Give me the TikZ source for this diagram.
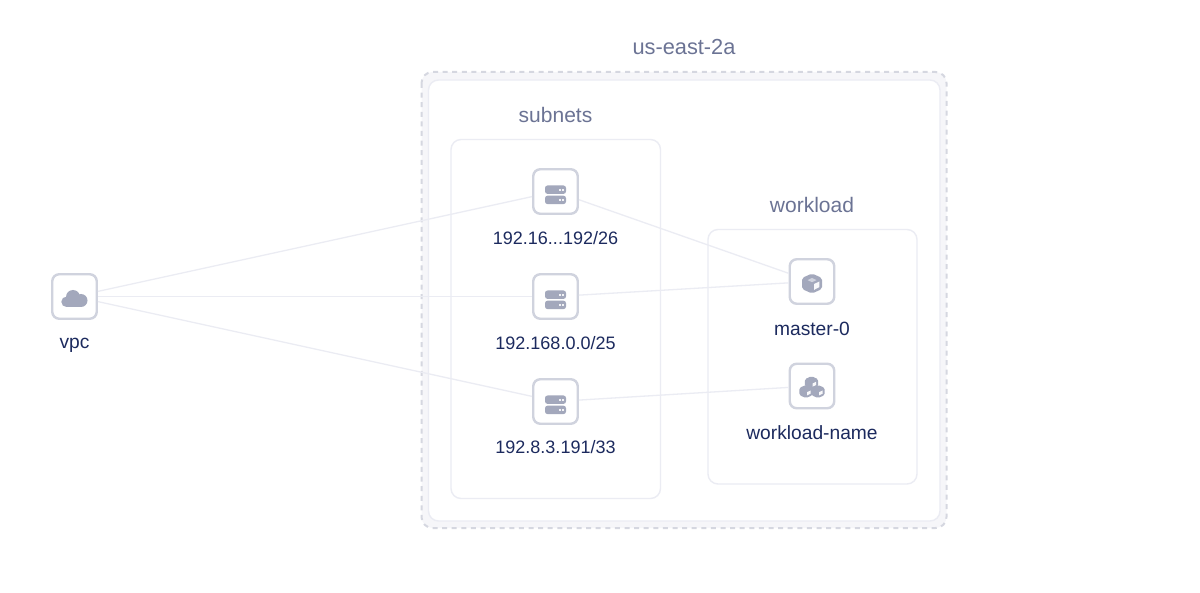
\documentclass[tikz,border=0pt]{standalone}
\usepackage{fontspec}
\setmainfont{Liberation Sans}
\definecolor{ZoneDash}{HTML}{D5D7E0}
\definecolor{ZoneFill}{HTML}{F6F6F9}
\definecolor{BoxLine}{HTML}{EBECF3}
\definecolor{IconLine}{HTML}{D0D3DE}
\definecolor{IconFill}{HTML}{A3A8BC}
\definecolor{TitleText}{HTML}{6B7394}
\definecolor{CaptionText}{HTML}{1C2A5E}
\usetikzlibrary{positioning}
\tikzset{
    % Group boxes
    zone outer/.style={
        draw=ZoneDash,
        fill=ZoneFill,
        line width=2pt,
        dash pattern=on 5pt off 4.6pt,
        rounded corners=11pt
    },
    group box/.style={
        draw=BoxLine,
        fill=white,
        line width=1.4pt,
        rounded corners=10pt
    },
    % Icon tiles
    icon tile/.style={
        rectangle,
        draw=IconLine,
        fill=white,
        line width=2.4pt,
        rounded corners=7pt,
        minimum width=44.5pt,
        minimum height=44.5pt,
        inner sep=0pt
    },
    title label/.style={
        font=\fontsize{21}{24}\selectfont,
        text=TitleText,
        anchor=base,
        inner sep=0pt
    },
    caption label/.style={
        font=\fontsize{19.2}{22}\selectfont,
        text=CaptionText,
        anchor=base,
        inner sep=0pt
    },
    number label/.style={
        caption label,
        font=\fontsize{18}{22}\selectfont
    },
    link line/.style={
        draw=BoxLine,
        line width=1.3pt
    },
    % Icon glyphs, drawn round the tile centre
    server icon/.pic={
        \foreach \rowy in {-1.8,8.4} {
            \fill[IconFill, rounded corners=2.5pt] (-10.5,\rowy-4.2) rectangle (10.5,\rowy+4.2);
            \fill[white!85!IconFill] (3.2,\rowy-0.9) rectangle (5,\rowy+0.9);
            \fill[white!85!IconFill] (6.2,\rowy-0.9) rectangle (8,\rowy+0.9);
        }
    },
    cloud icon/.pic={
        \fill[IconFill] (-1.5,0.5) circle (7);
        \fill[IconFill] (-8,5.3) circle (5.2);
        \fill[IconFill] (6.5,4) circle (6.5);
        \fill[IconFill] (-8,3) rectangle (6.5,10.5);
    },
    cube icon/.pic={
        \fill[IconFill, rounded corners=2pt] (0,-10) -- (10,-5.5) -- (10,5.5) -- (0,10) -- (-10,5.5) -- (-10,-5.5) -- cycle;
        \fill[IconLine] (0,-5.5) -- (4.5,-3.4) -- (0,-1.3) -- (-4.5,-3.4) -- cycle;
        \fill[white!92!IconFill] (2,0.6) -- (7.3,-2) -- (7.3,3.6) -- (2,6.4) -- cycle;
    },
    cubelet icon/.pic={
        \fill[IconFill, rounded corners=1.5pt] (0,-6.6) -- (6.6,-3.6) -- (6.6,3.6) -- (0,6.6) -- (-6.6,3.6) -- (-6.6,-3.6) -- cycle;
        \fill[white!92!IconFill] (1.2,0.6) -- (4.6,-1) -- (4.6,2.2) -- (1.2,3.8) -- cycle;
    }
}

\begin{document}
\begin{tikzpicture}[x=1pt, y=-1pt]
    \useasboundingbox (0,0) rectangle (1200,593);

    % Availability zone
    \node[title label, font=\fontsize{21.8}{24}\selectfont] (zonetitle) at (684,55) {us-east-2a};
    \draw[zone outer] (421.5,72) rectangle (946.5,528);
    \draw[group box] (428.5,80) rectangle (940,521);

    % Subnets group
    \node[title label] (subnetstitle) at (555.5,123) {subnets};
    \draw[group box] (451,139.5) rectangle (660.5,498.5);

    % Workload group
    \node[title label] (workloadtitle) at (812,213) {workload};
    \draw[group box] (708,229.5) rectangle (917,484);

    % Tiles
    \node[icon tile] (vpc) at (74.5,296.5) {};
    \node[icon tile] (subneta) at (555.5,191.5) {};
    \node[icon tile] (subnetb) at (555.5,296.5) {};
    \node[icon tile] (subnetc) at (555.5,401.5) {};
    \node[icon tile] (master) at (812,281.5) {};
    \node[icon tile] (workloadname) at (812,386) {};

    % Captions
    \node[caption label] (vpclabel) at (74.5,349) {vpc};
    \node[number label] (subnetalabel) at (555.5,245) {192.16...192/26};
    \node[number label] (subnetblabel) at (555.5,349.5) {192.168.0.0/25};
    \node[number label] (subnetclabel) at (555.5,454) {192.8.3.191/33};
    \node[caption label] (masterlabel) at (812,335.5) {master-0};
    \node[caption label] (workloadnamelabel) at (812,439.5) {workload-name};

    % Icons
    \pic at (vpc) {cloud icon};
    \pic at (subneta) {server icon};
    \pic at (subnetb) {server icon};
    \pic at (subnetc) {server icon};
    \pic at ([yshift=-2pt]master) {cube icon};
    \pic at ([xshift=-0.5pt, yshift=3.2pt]workloadname) {cubelet icon};
    \pic at ([xshift=-6pt, yshift=-5.5pt]workloadname) {cubelet icon};
    \pic at ([xshift=6pt, yshift=-5.5pt]workloadname) {cubelet icon};

    % Links
    \draw[link line] (vpc) -- (subneta);
    \draw[link line] (vpc) -- (subnetb);
    \draw[link line] (vpc) -- (subnetc);
    \draw[link line] (subneta) -- (master);
    \draw[link line] (subnetb) -- (master);
    \draw[link line] (subnetc) -- (workloadname);
\end{tikzpicture}
\end{document}
